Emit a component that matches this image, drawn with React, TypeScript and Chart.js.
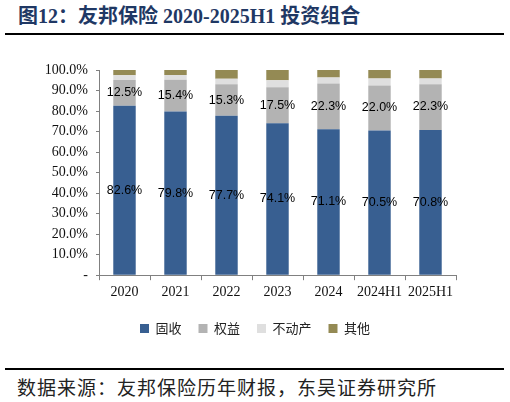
import { useEffect, useRef } from "react"
import { Chart, registerables } from "chart.js"

Chart.register(...registerables)

const categories = ["2020", "2021", "2022", "2023", "2024", "2024H1", "2025H1"]
const seriesNames = ["固收", "权益", "不动产", "其他"]
const fixedIncome = [82.6, 79.8, 77.7, 74.1, 71.1, 70.5, 70.8]
const equity = [12.5, 15.4, 15.3, 17.5, 22.3, 22.0, 22.3]
const realEstate = [2.3, 2.4, 2.7, 3.4, 2.9, 3.3, 2.7]
const others = [2.6, 2.4, 4.3, 5.0, 3.7, 4.2, 4.2]

const colors = ["#385f91", "#b3b3b3", "#dfdfdf", "#948a54"]
const serif = "'Liberation Serif', 'Times New Roman', serif"
const cjk = "'Noto Sans CJK SC', sans-serif"

// value labels in the middle of the first two segments
const segmentLabels = {
  id: "segmentLabels",
  afterDatasetsDraw(chart: Chart) {
    const ctx = chart.ctx
    ctx.save()
    ctx.font = "12.5px 'Liberation Sans', Arial, sans-serif"
    ctx.fillStyle = "#000"
    ctx.textAlign = "center"
    ctx.textBaseline = "middle"
    ;[0, 1].forEach((di) => {
      const meta = chart.getDatasetMeta(di)
      meta.data.forEach((bar: any, i: number) => {
        const v = chart.data.datasets[di].data[i] as number
        ctx.fillText(v.toFixed(1) + "%", bar.x, (bar.y + bar.base) / 2)
      })
    })
    ctx.restore()
  },
}

function PortfolioChart() {
  const chartRef = useRef<HTMLCanvasElement>(null)

  useEffect(() => {
    if (!chartRef.current) return
    const all = [fixedIncome, equity, realEstate, others]
    const chart = new Chart(chartRef.current, {
      type: "bar",
      data: {
        labels: categories,
        datasets: all.map((d, i) => ({
          label: seriesNames[i],
          data: d,
          backgroundColor: colors[i],
          borderWidth: 0,
          categoryPercentage: 1,
          barPercentage: 0.44,
        })),
      },
      options: {
        animation: false,
        responsive: true,
        maintainAspectRatio: false,
        layout: { padding: { top: 30, left: 0, right: 0, bottom: 5 } },
        plugins: {
          tooltip: { enabled: false },
          legend: {
            position: "bottom",
            labels: {
              boxWidth: 9,
              boxHeight: 9,
              padding: 17,
              color: "#222",
              font: { family: cjk, size: 13 },
            },
          },
        },
        scales: {
          x: {
            stacked: true,
            grid: {
              drawOnChartArea: false,
              tickLength: 5,
              color: "#808080",
            },
            border: { color: "#808080" },
            ticks: {
              color: "#111",
              padding: 4,
              autoSkip: false,
              minRotation: 0,
              maxRotation: 0,
              font: { family: serif, size: 14 },
            },
          },
          y: {
            stacked: true,
            min: 0,
            max: 100,
            afterFit: (s: any) => {
              s.width = 99
            },
            grid: {
              drawOnChartArea: false,
              tickLength: 3,
              color: "#808080",
            },
            border: { color: "#808080" },
            ticks: {
              stepSize: 10,
              autoSkip: false,
              color: "#111",
              padding: 8,
              font: { family: serif, size: 14 },
              callback: (v: any) => (v === 0 ? "-" : Number(v).toFixed(1) + "%"),
            },
          },
          spacer: {
            position: "right",
            display: true,
            afterFit: (s: any) => {
              s.width = 54
            },
            grid: { display: false },
            border: { display: false },
            ticks: { display: false },
          },
        },
      },
      plugins: [segmentLabels],
    })
    return () => chart.destroy()
  }, [])

  return (
    <div style={{ position: "absolute", left: 0, top: 40, width: 510, height: 310 }}>
      <canvas ref={chartRef} />
    </div>
  )
}

export default function App() {
  useEffect(() => {
    document.body.style.margin = "0"
  }, [])

  return (
    <div style={{ position: "relative", width: 510, height: 402, background: "#fff", overflow: "hidden" }}>
      <div
        style={{
          position: "absolute",
          left: 18,
          top: 4,
          lineHeight: "24px",
          fontSize: 20,
          fontWeight: "bold",
          color: "#1f3864",
          fontFamily: `${serif.split(",")[0]}, ${cjk}`,
          whiteSpace: "nowrap",
        }}
      >
        图12：友邦保险 2020-2025H1 投资组合
      </div>
      <div style={{ position: "absolute", left: 5, top: 33, width: 499, height: 2, background: "#000" }} />
      <PortfolioChart />
      <div style={{ position: "absolute", left: 5, top: 368, width: 499, height: 2, background: "#000" }} />
      <div
        style={{
          position: "absolute",
          left: 17,
          top: 375,
          lineHeight: "24px",
          fontSize: 19,
          letterSpacing: 1,
          color: "#222",
          fontFamily: cjk,
          whiteSpace: "nowrap",
        }}
      >
        数据来源：友邦保险历年财报，东吴证券研究所
      </div>
    </div>
  )
}
